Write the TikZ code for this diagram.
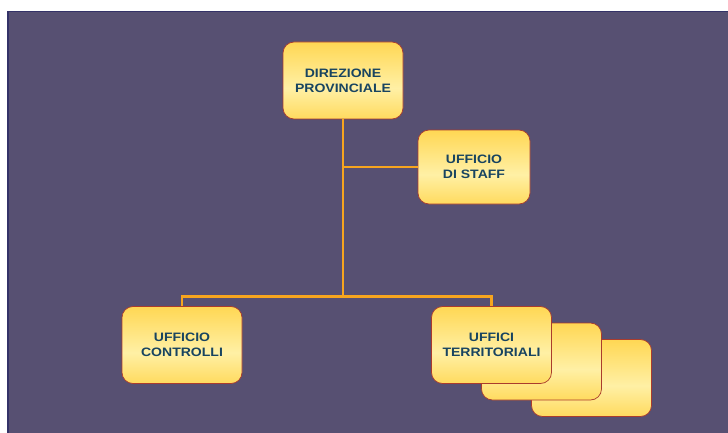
\documentclass[tikz,border=0pt]{standalone}
\usepackage{fontspec}
\usepackage{tikz}
\newfontfamily\boxfont[FakeStretch=1.15]{Liberation Sans}

\definecolor{sfondo}{RGB}{87,80,114}
\definecolor{bordosfondo}{RGB}{52,50,104}
\definecolor{oro}{RGB}{255,198,28}
\definecolor{crema}{RGB}{255,240,165}
\definecolor{bordo}{RGB}{170,60,45}
\definecolor{testo}{RGB}{24,68,96}
\definecolor{linea}{RGB}{247,165,30}

\pgfdeclareverticalshading{oroshade}{100bp}{color(0bp)=(oro); color(12bp)=(oro!85!crema);
    color(45bp)=(crema); color(88bp)=(oro!85!crema); color(100bp)=(oro)}

\tikzset{
    ufficio/.style={rectangle, rounded corners=11pt, draw=bordo, line width=0.7pt,
        shade, shading=oroshade,
        minimum width=120pt, minimum height=77pt, align=center,
        font=\boxfont\bfseries\fontsize{12.2}{15}\selectfont, text=testo},
    conn/.style={draw=linea, line width=2.6pt}
}

\begin{document}
\begin{tikzpicture}[x=1pt, y=1pt, node distance=264.5pt]

    \useasboundingbox[fill=white] (0,0) rectangle (728,432);
    \path[fill=sfondo, draw=bordosfondo, line width=1.6pt] (7.8,-5) rectangle (735,420.5);

    \node[ufficio] (DP) at (343,351.5) {DIREZIONE\\PROVINCIALE};
    \node[ufficio, below of=DP, node distance=86.5pt, xshift=131pt,
          minimum width=112pt, minimum height=74pt] (US) {UFFICIO\\DI STAFF};
    \node[ufficio, below of=DP, xshift=-161pt] (UC) {UFFICIO\\CONTROLLI};

    % pila degli uffici territoriali
    \coordinate[below of=DP, xshift=148.5pt] (ut);
    \node[ufficio] (UT3) at ([shift={(100pt,-33pt)}]ut) {};
    \node[ufficio] (UT2) at ([shift={(50pt,-16.5pt)}]ut) {};
    \node[ufficio] (UT) at (ut) {UFFICI\\TERRITORIALI};

    \coordinate (bus) at ([yshift=-177pt]DP.south);

    \path[conn]
    (DP.south) -- (bus)
    (US.west) -- (US.west -| DP.south)
    (UC.north) |- (bus) -| (UT.north);
\end{tikzpicture}
\end{document}
